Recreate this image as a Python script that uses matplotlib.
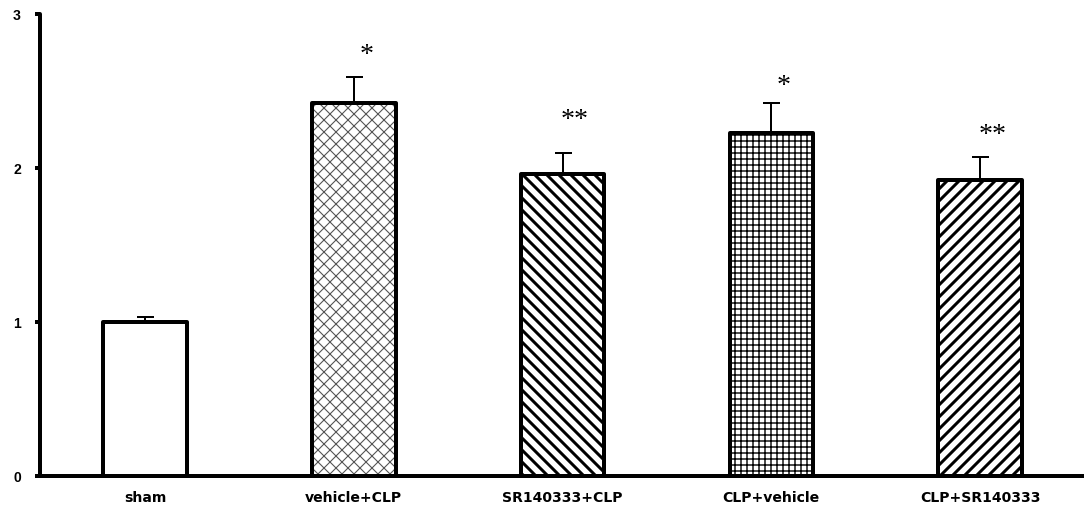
import matplotlib
matplotlib.use("Agg")
import matplotlib.pyplot as plt
import numpy as np

categories = ["sham", "vehicle+CLP", "SR140333+CLP", "CLP+vehicle", "CLP+SR140333"]
values = [1.00, 2.42, 1.96, 2.23, 1.92]
errors = [0.03, 0.17, 0.14, 0.19, 0.15]
stars = ["", "*", "**", "*", "**"]
star_y = [None, 2.73, 2.31, 2.53, 2.21]
hatches = ["", "xx", "\\\\", "++", "//"]
hatch_colors = ["black", "#555555", "black", "black", "black"]
hatch_lws = [1.0, 1.1, 3.0, 1.4, 3.0]

DPI = 72
fig = plt.figure(figsize=(1084 / DPI, 512 / DPI), dpi=DPI)
ax = fig.add_axes([40 / 1084, 36 / 512, 1 - 40 / 1084, 462 / 512])

x = np.arange(len(categories))
width = 0.40

for i in range(len(categories)):
    plt.rcParams['hatch.linewidth'] = hatch_lws[i]
    b = ax.bar(x[i], values[i], width, color="white", edgecolor=hatch_colors[i],
               hatch=hatches[i] if hatches[i] else None, linewidth=0, zorder=2)
    for p in b:
        try:
            p.set_hatch_linewidth(hatch_lws[i])
        except Exception:
            pass
    ax.bar(x[i], values[i], width, fill=False, edgecolor="black", linewidth=4,
           joinstyle="round", zorder=3)

ax.errorbar(x, values, yerr=[np.zeros(len(values)), errors], fmt="none",
            ecolor="black", elinewidth=2, capsize=8.5, capthick=2, zorder=1)

for i, s in enumerate(stars):
    if s:
        ax.text(x[i] + 0.06, star_y[i], s, ha="center", va="center",
                fontsize=28, family="Liberation Serif", color="black")

ax.set_xlim(-0.503, 4.498)
ax.set_ylim(0, 3)
ax.set_yticks([0, 1, 2, 3])
ax.set_yticklabels(["0", "1", "2", "3"], fontsize=14, fontweight="bold",
                   family="Liberation Sans")
ax.set_xticks(x)
ax.set_xticklabels(categories, fontsize=14, fontweight="bold", family="DejaVu Sans")
ax.tick_params(axis="y", direction="out", length=5, width=4, pad=14)
ax.tick_params(axis="x", length=0, pad=15)

for side in ["top", "right"]:
    ax.spines[side].set_visible(False)
for side in ["left", "bottom"]:
    ax.spines[side].set_linewidth(4)
    ax.spines[side].set_capstyle("round")

fig.savefig("out.png", dpi=DPI)
